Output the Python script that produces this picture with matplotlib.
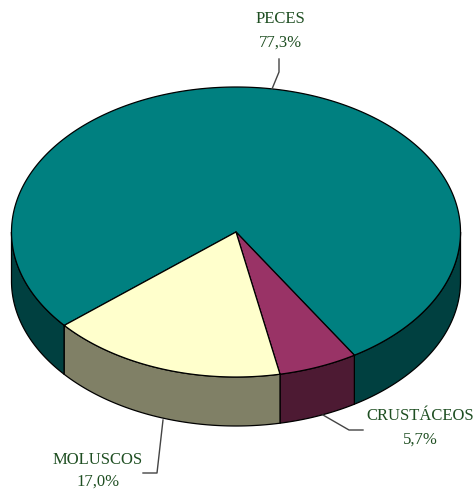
import numpy as np
import matplotlib
matplotlib.use('Agg')
import matplotlib.pyplot as plt

# data
categories = ['PECES', 'CRUSTÁCEOS', 'MOLUSCOS']
percents = [77.3, 5.7, 17.0]
percent_labels = ['77,3%', '5,7%', '17,0%']

top_colors = ['#008080', '#993366', '#FFFFCC']
side_colors = ['#004040', '#4D1A33', '#808066']
text_color = '#1F4F22'

# geometry of the pie, in pixels
cx, cy = 236.0, 232.0
rx, ry = 224.5, 145.0
depth = 49.0
start = 229.9  # degrees clockwise from the top


def ellipse_xy(phi):
    """ Point on the top rim for angles clockwise from the top """
    rad = np.radians(phi)
    return cx + rx * np.sin(rad), cy - ry * np.cos(rad)


plt.rcParams['font.family'] = ['Liberation Serif', 'DejaVu Serif']

fig = plt.figure(figsize=(4.77, 4.90), dpi=100)
ax = fig.add_axes([0, 0, 1, 1])
ax.set_xlim(0, 477)
ax.set_ylim(490, 0)
ax.axis('off')

# slice angles, going clockwise from the start angle
edges = []
a = start
for p in percents:
    edges.append((a, a + p * 3.6))
    a += p * 3.6

# side walls, only the front half of the rim (90..270 degrees) is visible
for i, (a0, a1) in enumerate(edges):
    for shift in (0, 360):
        lo = max(a0, 90 + shift)
        hi = min(a1, 270 + shift)
        if lo >= hi:
            continue
        phi = np.linspace(lo, hi, 200)
        x, y = ellipse_xy(phi)
        xs = np.concatenate([x, x[::-1]])
        ys = np.concatenate([y, y[::-1] + depth])
        ax.fill(xs, ys, facecolor=side_colors[i], edgecolor='black', linewidth=0.9,
                joinstyle='round', zorder=2)

# top faces
for i, (a0, a1) in enumerate(edges):
    phi = np.linspace(a0, a1, 400)
    x, y = ellipse_xy(phi)
    xs = np.concatenate([[cx], x])
    ys = np.concatenate([[cy], y])
    ax.fill(xs, ys, facecolor=top_colors[i], edgecolor='black', linewidth=0.9,
            joinstyle='round', zorder=3)

# leader lines
leader = '#444444'
ax.plot([272, 279, 279], [89, 72, 59], color=leader, lw=1.0, zorder=4)
ax.plot([323, 349, 363], [415, 430, 430], color=leader, lw=1.0, zorder=4)
ax.plot([163, 157, 143], [420, 473, 473], color=leader, lw=1.0, zorder=4)

# labels
fs = 12
ax.text(280, 19, categories[0], ha='center', va='center', fontsize=fs, color=text_color)
ax.text(280, 43, percent_labels[0], ha='center', va='center', fontsize=fs, color=text_color)
ax.text(420, 416, categories[1], ha='center', va='center', fontsize=fs, color=text_color)
ax.text(420, 440, percent_labels[1], ha='center', va='center', fontsize=fs, color=text_color)
ax.text(98, 460, categories[2], ha='center', va='center', fontsize=fs, color=text_color)
ax.text(98, 482, percent_labels[2], ha='center', va='center', fontsize=fs, color=text_color)

fig.savefig('out.png', dpi=100)
